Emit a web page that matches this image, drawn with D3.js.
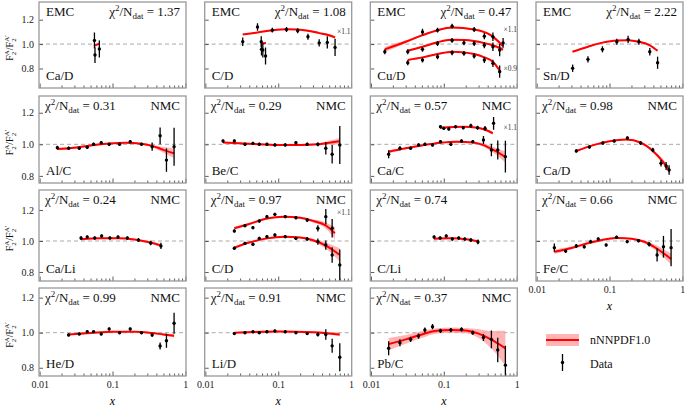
<!DOCTYPE html>
<html>
<head>
<meta charset="utf-8">
<script src="https://d3js.org/d3.v7.min.js"></script>
<style>
  body { margin: 0; background: #fff; }
  svg { font-family: "Liberation Serif", "DejaVu Serif", serif; }
</style>
</head>
<body>
<div class="chart"></div>
<script>
// ---- data: points are [x, ratio, error], curves are [x, central, half band] ----

// EMC Ca/D
var caD_emc_pts = [[0.0565, 1.03, 0.065], [0.0575, 0.91, 0.065], [0.066, 0.96, 0.07]];
var caD_emc_fit = [[0.056, 0.985, 0.006], [0.061, 0.995, 0.006], [0.066, 1.005, 0.006]];

// EMC C/D (upper set shown x1.1)
var cD_emc_pts1 = [[0.0326, 1.02, 0.035], [0.052, 1.14, 0.03], [0.083, 1.114, 0.02], [0.13, 1.12, 0.02],
  [0.185, 1.109, 0.02], [0.256, 1.06, 0.025], [0.365, 1.01, 0.03], [0.472, 1.014, 0.05], [0.603, 0.973, 0.07]];
var cD_emc_fit1 = [[0.0326, 1.079, 0.004], [0.052, 1.095, 0.004], [0.083, 1.113, 0.004], [0.13, 1.122, 0.004],
  [0.185, 1.12, 0.005], [0.256, 1.11, 0.006], [0.365, 1.09, 0.008], [0.472, 1.077, 0.01], [0.603, 1.055, 0.012]];
var cD_emc_pts2 = [[0.0585, 1.019, 0.045], [0.059, 0.957, 0.05], [0.0615, 0.951, 0.06], [0.067, 0.902, 0.07]];
var cD_emc_fit2 = [[0.058, 1.005, 0.005], [0.0625, 1.006, 0.005], [0.068, 1.008, 0.005]];

// EMC Cu/D (top x1.1, bottom x0.9)
var cuD_pts1 = [[0.0155, 0.937, 0.02], [0.051, 1.10, 0.025], [0.082, 1.114, 0.02], [0.13, 1.147, 0.02],
  [0.261, 1.12, 0.02], [0.36, 1.065, 0.025], [0.472, 1.06, 0.035], [0.651, 1.01, 0.04]];
var cuD_fit1 = [[0.0155, 0.957, 0.022], [0.03, 1.019, 0.012], [0.051, 1.073, 0.007], [0.082, 1.114, 0.006],
  [0.13, 1.136, 0.006], [0.26, 1.12, 0.007], [0.44, 1.073, 0.01], [0.65, 0.984, 0.015]];
var cuD_pts2 = [[0.032, 0.937, 0.02], [0.051, 0.957, 0.02], [0.082, 1.005, 0.02], [0.13, 1.03, 0.02],
  [0.189, 1.01, 0.02], [0.261, 1.005, 0.02], [0.36, 0.99, 0.025], [0.472, 0.978, 0.035], [0.584, 0.951, 0.05]];
var cuD_fit2 = [[0.032, 0.945, 0.008], [0.051, 0.978, 0.006], [0.082, 1.015, 0.005], [0.125, 1.035, 0.005],
  [0.19, 1.033, 0.005], [0.26, 1.025, 0.006], [0.36, 1.008, 0.008], [0.47, 0.99, 0.01], [0.65, 0.955, 0.014]];
var cuD_pts3 = [[0.032, 0.847, 0.02], [0.051, 0.869, 0.02], [0.082, 0.896, 0.02], [0.13, 0.929, 0.02],
  [0.189, 0.924, 0.02], [0.261, 0.902, 0.02], [0.36, 0.869, 0.025], [0.472, 0.842, 0.03], [0.584, 0.774, 0.05]];
var cuD_fit3 = [[0.032, 0.87, 0.006], [0.051, 0.891, 0.005], [0.082, 0.918, 0.005], [0.13, 0.937, 0.005],
  [0.19, 0.932, 0.005], [0.26, 0.918, 0.006], [0.36, 0.891, 0.008], [0.47, 0.856, 0.01], [0.6, 0.774, 0.014]];

// EMC Sn/D
var snD_pts = [[0.0312, 0.802, 0.03], [0.0506, 0.875, 0.025], [0.08, 0.957, 0.025], [0.126, 1.019, 0.025],
  [0.18, 1.038, 0.03], [0.253, 1.019, 0.025], [0.357, 0.937, 0.03], [0.457, 0.847, 0.05]];
var snD_fit = [[0.031, 0.937, 0.004], [0.0506, 0.978, 0.004], [0.08, 1.012, 0.004], [0.126, 1.03, 0.004],
  [0.18, 1.032, 0.004], [0.253, 1.019, 0.004], [0.357, 0.99, 0.005], [0.457, 0.945, 0.006]];

// NMC Al/C
var alC_pts = [[0.0175, 0.979, 0.012], [0.025, 0.975, 0.01], [0.035, 0.975, 0.01], [0.045, 0.981, 0.01],
  [0.055, 1.0, 0.01], [0.07, 1.01, 0.01], [0.09, 1.0, 0.01], [0.125, 1.0, 0.01], [0.175, 1.017, 0.01],
  [0.25, 1.0, 0.01], [0.35, 0.985, 0.026], [0.45, 1.054, 0.053], [0.55, 0.90, 0.074], [0.7, 0.985, 0.12]];
var alC_fit = [[0.0175, 0.97, 0.008], [0.03, 0.978, 0.006], [0.05, 0.993, 0.005], [0.09, 1.005, 0.004],
  [0.15, 1.01, 0.004], [0.25, 1.003, 0.006], [0.35, 0.99, 0.008], [0.5, 0.965, 0.018], [0.7, 0.943, 0.03]];

// NMC Be/C
var beC_pts = [[0.0175, 1.021, 0.01], [0.025, 1.021, 0.01], [0.035, 1.0, 0.01], [0.045, 1.006, 0.01],
  [0.055, 1.0, 0.01], [0.07, 1.0, 0.01], [0.09, 0.996, 0.01], [0.125, 0.996, 0.01], [0.175, 1.01, 0.01],
  [0.25, 1.0, 0.01], [0.35, 1.0, 0.012], [0.45, 0.975, 0.04], [0.55, 0.937, 0.058], [0.7, 0.996, 0.12]];
var beC_fit = [[0.0175, 1.012, 0.006], [0.04, 1.004, 0.004], [0.1, 0.996, 0.004], [0.2, 0.996, 0.004],
  [0.35, 1.0, 0.006], [0.5, 1.01, 0.012], [0.7, 1.02, 0.02]];

// NMC Ca/C (upper set x1.1)
var caC_pts1 = [[0.0175, 0.937, 0.025], [0.025, 0.975, 0.012], [0.035, 0.975, 0.01], [0.045, 0.996, 0.01],
  [0.055, 1.0, 0.01], [0.07, 0.996, 0.01], [0.09, 1.017, 0.01], [0.125, 1.0, 0.01], [0.175, 1.021, 0.01],
  [0.25, 1.017, 0.01], [0.35, 1.027, 0.025], [0.45, 0.964, 0.04], [0.55, 0.964, 0.06], [0.7, 0.922, 0.1]];
var caC_fit1 = [[0.0175, 0.953, 0.01], [0.03, 0.975, 0.007], [0.05, 0.993, 0.005], [0.09, 1.01, 0.004],
  [0.15, 1.017, 0.005], [0.25, 1.012, 0.006], [0.35, 0.995, 0.01], [0.5, 0.96, 0.02], [0.7, 0.92, 0.035]];
var caC_pts2 = [[0.09, 1.111, 0.01], [0.1, 1.101, 0.01], [0.117, 1.097, 0.01], [0.145, 1.111, 0.01],
  [0.185, 1.105, 0.01], [0.235, 1.118, 0.012], [0.291, 1.105, 0.012], [0.368, 1.101, 0.015], [0.482, 1.133, 0.04]];
var caC_fit2 = [[0.089, 1.105, 0.004], [0.14, 1.11, 0.004], [0.185, 1.111, 0.004], [0.29, 1.105, 0.005],
  [0.37, 1.092, 0.006], [0.47, 1.07, 0.008]];

// NMC Ca/D
var caD_nmc_pts = [[0.035, 0.958, 0.01], [0.053, 0.983, 0.01], [0.081, 1.008, 0.01], [0.116, 1.021, 0.01],
  [0.176, 1.04, 0.01], [0.267, 1.008, 0.012], [0.393, 0.964, 0.015], [0.509, 0.88, 0.02], [0.598, 0.863, 0.025], [0.658, 0.837, 0.03]];
var caD_nmc_fit = [[0.035, 0.958, 0.005], [0.06, 0.995, 0.004], [0.1, 1.02, 0.004], [0.17, 1.03, 0.004],
  [0.27, 1.01, 0.005], [0.4, 0.955, 0.008], [0.52, 0.9, 0.015], [0.66, 0.835, 0.02]];

// NMC Ca/Li
var caLi_pts = [[0.037, 1.019, 0.012], [0.045, 1.026, 0.01], [0.057, 1.019, 0.01], [0.071, 1.032, 0.01],
  [0.092, 1.019, 0.01], [0.119, 1.026, 0.01], [0.16, 1.019, 0.01], [0.227, 1.006, 0.012], [0.334, 0.987, 0.015], [0.462, 0.968, 0.02]];
var caLi_fit = [[0.037, 1.012, 0.005], [0.07, 1.018, 0.004], [0.12, 1.018, 0.004], [0.2, 1.01, 0.005],
  [0.33, 0.99, 0.007], [0.46, 0.972, 0.01]];

// NMC C/D (upper set x1.1)
var cD_nmc_pts1 = [[0.025, 1.065, 0.01], [0.035, 1.099, 0.01], [0.045, 1.086, 0.01], [0.055, 1.129, 0.01],
  [0.07, 1.157, 0.01], [0.09, 1.172, 0.01], [0.125, 1.157, 0.01], [0.175, 1.15, 0.01], [0.25, 1.135, 0.012],
  [0.35, 1.082, 0.02], [0.45, 1.157, 0.05], [0.55, 1.082, 0.06]];
var cD_nmc_fit1 = [[0.025, 1.082, 0.01], [0.04, 1.11, 0.008], [0.07, 1.145, 0.006], [0.12, 1.157, 0.006],
  [0.2, 1.15, 0.007], [0.3, 1.13, 0.01], [0.45, 1.1, 0.02], [0.6, 1.05, 0.04]];
var cD_nmc_pts2 = [[0.025, 0.953, 0.01], [0.035, 0.985, 0.01], [0.045, 0.979, 0.01], [0.055, 1.017, 0.01],
  [0.07, 1.028, 0.01], [0.09, 1.039, 0.01], [0.125, 1.028, 0.01], [0.175, 1.017, 0.01], [0.25, 1.013, 0.012],
  [0.35, 0.996, 0.02], [0.45, 0.974, 0.03], [0.55, 0.91, 0.05], [0.7, 0.845, 0.1]];
var cD_nmc_fit2 = [[0.025, 0.957, 0.008], [0.04, 0.99, 0.006], [0.07, 1.017, 0.005], [0.12, 1.028, 0.005],
  [0.2, 1.022, 0.006], [0.3, 1.005, 0.01], [0.45, 0.97, 0.02], [0.7, 0.91, 0.043]];

// C/Li
var cLi_pts = [[0.0736, 1.026, 0.01], [0.089, 1.019, 0.01], [0.108, 1.032, 0.01], [0.131, 1.013, 0.01],
  [0.16, 1.019, 0.01], [0.194, 1.013, 0.01], [0.235, 1.006, 0.012], [0.294, 0.994, 0.015]];
var cLi_fit = [[0.073, 1.015, 0.005], [0.13, 1.018, 0.004], [0.2, 1.012, 0.005], [0.3, 0.998, 0.006]];

// NMC Fe/C
var feC_pts = [[0.0175, 0.957, 0.027], [0.025, 0.935, 0.012], [0.035, 0.968, 0.012], [0.045, 0.963, 0.012],
  [0.055, 0.996, 0.012], [0.07, 1.013, 0.01], [0.09, 0.974, 0.01], [0.125, 1.024, 0.01], [0.175, 0.996, 0.01],
  [0.25, 1.002, 0.01], [0.35, 0.979, 0.015], [0.45, 0.91, 0.043], [0.55, 0.963, 0.07], [0.7, 0.957, 0.12]];
var feC_fit = [[0.0175, 0.931, 0.015], [0.03, 0.955, 0.01], [0.05, 0.985, 0.007], [0.09, 1.012, 0.005],
  [0.13, 1.02, 0.005], [0.2, 1.015, 0.006], [0.3, 0.995, 0.01], [0.45, 0.95, 0.02], [0.7, 0.884, 0.035]];

// NMC He/D
var heD_pts = [[0.025, 0.987, 0.008], [0.035, 0.993, 0.008], [0.045, 1.006, 0.008], [0.055, 1.006, 0.008],
  [0.07, 0.993, 0.008], [0.09, 1.021, 0.008], [0.125, 1.0, 0.008], [0.175, 1.021, 0.008], [0.25, 1.0, 0.008],
  [0.35, 0.987, 0.01], [0.45, 0.924, 0.02], [0.55, 0.954, 0.04], [0.7, 1.054, 0.06]];
var heD_fit = [[0.025, 0.99, 0.005], [0.05, 0.998, 0.004], [0.1, 1.005, 0.004], [0.2, 1.006, 0.004],
  [0.35, 0.998, 0.005], [0.5, 0.99, 0.007], [0.7, 0.983, 0.01]];

// NMC Li/D
var liD_pts = [[0.025, 0.995, 0.008], [0.035, 1.0, 0.008], [0.045, 1.005, 0.008], [0.055, 1.0, 0.008],
  [0.07, 1.005, 0.008], [0.09, 1.01, 0.008], [0.125, 1.005, 0.008], [0.175, 1.0, 0.008], [0.25, 0.995, 0.008],
  [0.35, 0.99, 0.012], [0.45, 0.99, 0.03], [0.55, 0.925, 0.04], [0.7, 0.86, 0.08]];
var liD_fit = [[0.025, 1.0, 0.004], [0.1, 1.007, 0.004], [0.3, 1.003, 0.005], [0.7, 0.99, 0.01]];

// NMC Pb/C
var pbC_pts = [[0.0175, 0.911, 0.04], [0.025, 0.943, 0.02], [0.035, 0.962, 0.015], [0.045, 0.981, 0.015],
  [0.055, 1.015, 0.015], [0.07, 1.034, 0.015], [0.09, 1.011, 0.012], [0.125, 1.015, 0.012], [0.175, 1.019, 0.012],
  [0.25, 1.0, 0.012], [0.35, 0.973, 0.02], [0.45, 0.962, 0.05], [0.55, 0.901, 0.07], [0.7, 0.815, 0.11]];
var pbC_fit = [[0.0175, 0.935, 0.035], [0.03, 0.962, 0.025], [0.05, 0.99, 0.02], [0.08, 1.011, 0.015],
  [0.125, 1.015, 0.015], [0.2, 1.012, 0.015], [0.3, 0.995, 0.025], [0.45, 0.96, 0.05], [0.7, 0.911, 0.1]];

// tick values and labels
var xTicks = [0.01, 0.1, 1];
var xTickLabels = ["0.01", "0.1", "1"];
var yTicks = [0.8, 1.0, 1.2];
var yTickLabels = ["0.8", "1.0", "1.2"];

// panel table built from the arrays above
var panels = [
  {row: 0, col: 0, exp: "EMC", chi: "1.37", name: "Ca/D", sets: [[caD_emc_pts, caD_emc_fit]], notes: []},
  {row: 0, col: 1, exp: "EMC", chi: "1.08", name: "C/D", sets: [[cD_emc_pts1, cD_emc_fit1], [cD_emc_pts2, cD_emc_fit2]],
    notes: [[0.64, 1.11, "×1.1"]]},
  {row: 0, col: 2, exp: "EMC", chi: "0.47", name: "Cu/D", sets: [[cuD_pts1, cuD_fit1], [cuD_pts2, cuD_fit2], [cuD_pts3, cuD_fit3]],
    notes: [[0.66, 1.12, "×1.1"], [0.66, 0.80, "×0.9"]]},
  {row: 0, col: 3, exp: "EMC", chi: "2.22", name: "Sn/D", sets: [[snD_pts, snD_fit]], notes: []},
  {row: 1, col: 0, exp: "NMC", chi: "0.31", name: "Al/C", sets: [[alC_pts, alC_fit]], notes: []},
  {row: 1, col: 1, exp: "NMC", chi: "0.29", name: "Be/C", sets: [[beC_pts, beC_fit]], notes: []},
  {row: 1, col: 2, exp: "NMC", chi: "0.57", name: "Ca/C", sets: [[caC_pts1, caC_fit1], [caC_pts2, caC_fit2]],
    notes: [[0.66, 1.11, "×1.1"]]},
  {row: 1, col: 3, exp: "NMC", chi: "0.98", name: "Ca/D", sets: [[caD_nmc_pts, caD_nmc_fit]], notes: []},
  {row: 2, col: 0, exp: "NMC", chi: "0.24", name: "Ca/Li", sets: [[caLi_pts, caLi_fit]], notes: []},
  {row: 2, col: 1, exp: "NMC", chi: "0.97", name: "C/D", sets: [[cD_nmc_pts1, cD_nmc_fit1], [cD_nmc_pts2, cD_nmc_fit2]],
    notes: [[0.64, 1.185, "×1.1"]]},
  {row: 2, col: 2, exp: "", chi: "0.74", name: "C/Li", sets: [[cLi_pts, cLi_fit]], notes: []},
  {row: 2, col: 3, exp: "NMC", chi: "0.66", name: "Fe/C", sets: [[feC_pts, feC_fit]], notes: [], xlabels: true},
  {row: 3, col: 0, exp: "NMC", chi: "0.99", name: "He/D", sets: [[heD_pts, heD_fit]], notes: [], xlabels: true},
  {row: 3, col: 1, exp: "NMC", chi: "0.91", name: "Li/D", sets: [[liD_pts, liD_fit]], notes: [], xlabels: true},
  {row: 3, col: 2, exp: "NMC", chi: "0.37", name: "Pb/C", sets: [[pbC_pts, pbC_fit]], notes: [], xlabels: true}
];

// ---- layout ----
var svgWidth = 685, svgHeight = 408;
var colLeft = [39, 204.7, 370.3, 536];
var panelW = 147;
var rowTop = [2, 96, 190, 288];
var rowBottom = [88, 183, 281, 376];
var rowDomain = [[0.64, 1.345], [0.755, 1.306], [0.742, 1.329], [0.753, 1.255]];
var xDomain = [0.0098, 1.02];

var red = "#ff0000", band = "#ff9c9c", frameColor = "#999", tickColor = "#333";

var svg = d3.select(".chart").append("svg")
  .attr("width", svgWidth)
  .attr("height", svgHeight);

// minor ticks of the log axis
var minorTicks = [];
[0.01, 0.1].forEach(function(d) {
  for (var k = 2; k <= 9; k++) minorTicks.push(d * k);
});

// chi^2/N_dat label with super/subscripts
function chiLabel(g, xPos, yPos, anchor, value) {
  var t = g.append("text").attr("x", xPos).attr("y", yPos)
    .attr("text-anchor", anchor).attr("font-size", 13).attr("fill", "#111");
  t.append("tspan").text("χ");
  t.append("tspan").attr("font-size", 9).attr("dy", -5).text("2");
  t.append("tspan").attr("dy", 5).text("/N");
  t.append("tspan").attr("font-size", 9).attr("dy", 3).text("dat");
  t.append("tspan").attr("dy", -3).text(" = " + value);
}

panels.forEach(function(p, i) {
  var L = colLeft[p.col], R = L + panelW, T = rowTop[p.row], B = rowBottom[p.row];

  var xScale = d3.scaleLog().domain(xDomain).range([L, R]);
  var yScale = d3.scaleLinear().domain(rowDomain[p.row]).range([B, T]);

  var g = svg.append("g");

  g.append("clipPath").attr("id", "clip" + i)
    .append("rect").attr("x", L).attr("y", T).attr("width", panelW).attr("height", B - T);

  var inner = g.append("g").attr("clip-path", "url(#clip" + i + ")");

  // reference line at 1
  inner.append("line")
    .attr("x1", L).attr("x2", R)
    .attr("y1", yScale(1)).attr("y2", yScale(1))
    .attr("stroke", "#aaa").attr("stroke-width", 1).attr("stroke-dasharray", "4,3");

  var area = d3.area()
    .x(function(d) { return xScale(d[0]); })
    .y0(function(d) { return yScale(d[1] - d[2]); })
    .y1(function(d) { return yScale(d[1] + d[2]); })
    .curve(d3.curveMonotoneX);

  var line = d3.line()
    .x(function(d) { return xScale(d[0]); })
    .y(function(d) { return yScale(d[1]); })
    .curve(d3.curveMonotoneX);

  p.sets.forEach(function(s) {
    inner.append("path").datum(s[1]).attr("d", area).attr("fill", band).attr("opacity", 0.75);
    inner.append("path").datum(s[1]).attr("d", line)
      .attr("fill", "none").attr("stroke", red).attr("stroke-width", 2);
  });

  p.sets.forEach(function(s) {
    inner.selectAll(null).data(s[0]).enter().append("line")
      .attr("x1", function(d) { return xScale(d[0]); })
      .attr("x2", function(d) { return xScale(d[0]); })
      .attr("y1", function(d) { return yScale(d[1] - d[2]); })
      .attr("y2", function(d) { return yScale(d[1] + d[2]); })
      .attr("stroke", "#000").attr("stroke-width", 1.3);
    inner.selectAll(null).data(s[0]).enter().append("circle")
      .attr("cx", function(d) { return xScale(d[0]); })
      .attr("cy", function(d) { return yScale(d[1]); })
      .attr("r", 1.7).attr("fill", "#000");
  });

  // axes, ticks pointing inward
  var yAxis = d3.axisLeft(yScale).tickValues(yTicks).tickSize(-4).tickPadding(5)
    .tickFormat(function(d, k) { return p.col === 0 ? yTickLabels[k] : ""; });
  var gy = g.append("g").attr("transform", "translate(" + L + ",0)").call(yAxis);

  var xAxis = d3.axisBottom(xScale).tickValues(xTicks).tickSize(-4.5).tickPadding(5)
    .tickFormat(function(d, k) { return p.xlabels ? xTickLabels[k] : ""; });
  var gx = g.append("g").attr("transform", "translate(0," + B + ")").call(xAxis);

  var xMinor = d3.axisBottom(xScale).tickValues(minorTicks).tickSize(-2.5).tickFormat("");
  var gm = g.append("g").attr("transform", "translate(0," + B + ")").call(xMinor);

  [gy, gx, gm].forEach(function(a) {
    a.attr("font-family", null).attr("font-size", 10);
    a.select(".domain").remove();
    a.selectAll(".tick line").attr("stroke", tickColor).attr("stroke-width", 0.8);
    a.selectAll(".tick text").attr("fill", "#222");
  });

  // frame
  g.append("rect")
    .attr("x", L).attr("y", T).attr("width", panelW).attr("height", B - T)
    .attr("fill", "none").attr("stroke", frameColor).attr("stroke-width", 1.3);

  // labels
  if (p.row === 0) {
    g.append("text").attr("x", L + 7).attr("y", T + 14).attr("font-size", 13).attr("fill", "#111").text(p.exp);
    chiLabel(g, R - 6, T + 14, "end", p.chi);
  } else {
    chiLabel(g, L + 6, T + 14, "start", p.chi);
    if (p.exp) {
      g.append("text").attr("x", R - 6).attr("y", T + 14).attr("text-anchor", "end")
        .attr("font-size", 13).attr("fill", "#111").text(p.exp);
    }
  }
  g.append("text").attr("x", L + 7).attr("y", B - 8).attr("font-size", 13).attr("fill", "#111").text(p.name);

  p.notes.forEach(function(n) {
    g.append("text").attr("x", xScale(n[0])).attr("y", yScale(n[1]) + 3)
      .attr("font-size", 7.5).attr("fill", "#333").text(n[2]);
  });

  if (p.xlabels) {
    g.append("text").attr("x", (L + R) / 2).attr("y", B + 29)
      .attr("text-anchor", "middle").attr("font-style", "italic").attr("font-size", 12).text("x");
  }

  // y axis title on the first column
  if (p.col === 0) {
    var yt = g.append("text")
      .attr("transform", "translate(13," + ((T + B) / 2 + 3) + ") rotate(-90)")
      .attr("text-anchor", "middle").attr("font-size", 10).attr("fill", "#111");
    yt.append("tspan").text("F");
    yt.append("tspan").attr("font-size", 7).attr("dy", 3).text("2");
    yt.append("tspan").attr("font-size", 7).attr("dx", -3.5).attr("dy", -7).text("A");
    yt.append("tspan").attr("dy", 4).text("/F");
    yt.append("tspan").attr("font-size", 7).attr("dy", 3).text("2");
    yt.append("tspan").attr("font-size", 7).attr("dx", -3.5).attr("dy", -7).text("A′");
  }
});

// ---- legend ----
var leg = svg.append("g");
leg.append("rect").attr("x", 546).attr("y", 334).attr("width", 33).attr("height", 12)
  .attr("fill", band).attr("opacity", 0.75);
leg.append("line").attr("x1", 546).attr("x2", 579).attr("y1", 340).attr("y2", 340)
  .attr("stroke", red).attr("stroke-width", 2);
leg.append("text").attr("x", 590).attr("y", 344).attr("font-size", 12).attr("fill", "#111").text("nNNPDF1.0");
leg.append("line").attr("x1", 562.5).attr("x2", 562.5).attr("y1", 354).attr("y2", 371)
  .attr("stroke", "#000").attr("stroke-width", 1.3);
leg.append("circle").attr("cx", 562.5).attr("cy", 362.5).attr("r", 1.7).attr("fill", "#000");
leg.append("text").attr("x", 590).attr("y", 368).attr("font-size", 12).attr("fill", "#111").text("Data");
</script>
</body>
</html>
